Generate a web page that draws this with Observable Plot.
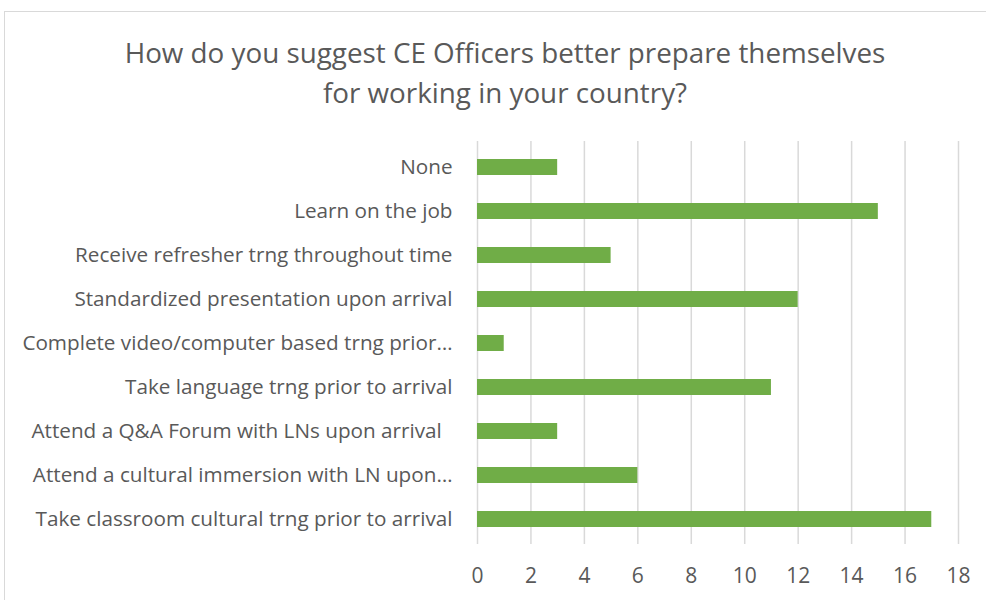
<!DOCTYPE html>
<html>
<head>
<meta charset="utf-8">
<script src="https://cdn.jsdelivr.net/npm/d3@7"></script>
<script src="https://cdn.jsdelivr.net/npm/@observablehq/plot@0.6"></script>
<style>
  body { margin: 0; background: #fff; }
  #wrap { position: relative; width: 986px; height: 600px; overflow: hidden; background: #fff; }
  #frame { position: absolute; left: 4px; top: 11px; width: 1000px; height: 700px; border: 1px solid #d9d9d9; box-sizing: border-box; }
  #title { position: absolute; left: 0; top: 0; width: 1010px; height: 130px; text-align: center; font-family: "Open Sans", sans-serif; font-size: 27.8px; color: #595959; line-height: 40px; padding-top: 32px; box-sizing: border-box; }
  #chart { position: absolute; left: 0; top: 130px; }
</style>
</head>
<body>
<div id="wrap">
  <div id="frame"></div>
  <div id="title">How do you suggest CE Officers better prepare themselves<br>for working in your country?</div>
  <div id="chart"></div>
</div>
<script>
const categories = [
  "None",
  "Learn on the job",
  "Receive refresher trng throughout time",
  "Standardized presentation upon arrival",
  "Complete video/computer based trng prior…",
  "Take language trng prior to arrival",
  "Attend a Q&A Forum with LNs upon arrival  ",
  "Attend a cultural immersion with LN upon…",
  "Take classroom cultural trng prior to arrival"
];
const counts = [3, 15, 5, 12, 1, 11, 3, 6, 17];
const xTicks = [0, 2, 4, 6, 8, 10, 12, 14, 16, 18];

const data = categories.map((c, i) => ({category: c, count: counts[i]}));

const chart = Plot.plot({
  width: 986,
  height: 470,
  marginLeft: 477,
  marginRight: 28,
  marginTop: 11,
  marginBottom: 56,
  style: {fontFamily: "'Open Sans', sans-serif", fontSize: "20px", color: "#595959", background: "transparent"},
  x: {domain: [0, 18], ticks: xTicks, label: null},
  y: {domain: categories, paddingInner: 0.64, paddingOuter: 0.32, label: null},
  marks: [
    Plot.gridX(xTicks, {stroke: "#d9d9d9", strokeOpacity: 1, strokeWidth: 1.5}),
    Plot.barX(data, {x: "count", y: "category", fill: "#70AD47"}),
    Plot.axisX({ticks: xTicks, tickSize: 0, tickPadding: 24, fontSize: 21, label: null}),
    Plot.axisY({tickSize: 0, tickPadding: 25, label: null, fontSize: 20.7})
  ]
});
document.getElementById("chart").appendChild(chart);
</script>
</body>
</html>
